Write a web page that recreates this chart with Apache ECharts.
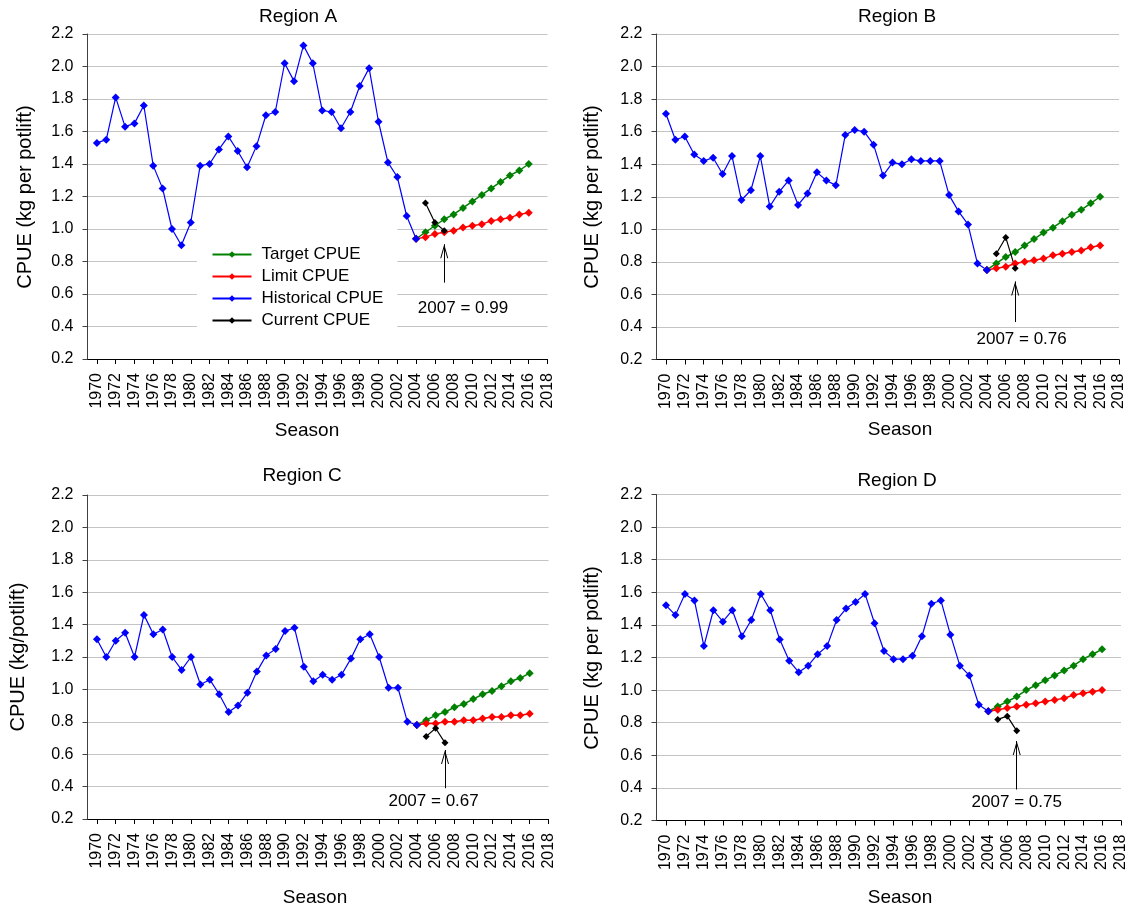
<!DOCTYPE html>
<html>
<head>
<meta charset="utf-8">
<script src="https://cdn.jsdelivr.net/npm/echarts@6/dist/echarts.min.js"></script>
<style>
  html, body { margin: 0; padding: 0; background: #ffffff; }
  #chart { width: 1130px; height: 911px; }
</style>
</head>
<body>
<div id="chart"></div>
<script>
// Season categories (the axis starts one season before the first record)
const seasons = [
  '1969','1970','1971','1972','1973','1974','1975','1976','1977','1978','1979',
  '1980','1981','1982','1983','1984','1985','1986','1987','1988','1989',
  '1990','1991','1992','1993','1994','1995','1996','1997','1998','1999',
  '2000','2001','2002','2003','2004','2005','2006','2007','2008','2009',
  '2010','2011','2012','2013','2014','2015','2016','2017','2018'
];
// Seasons that carry a tick and a label
const labelledSeasons = [
  '1970','1972','1974','1976','1978','1980','1982','1984','1986','1988',
  '1990','1992','1994','1996','1998','2000','2002','2004','2006','2008',
  '2010','2012','2014','2016','2018'
];

const seriesNames = ['Target CPUE', 'Limit CPUE', 'Historical CPUE', 'Current CPUE'];
const regionTitles = ['Region A', 'Region B', 'Region C', 'Region D'];
const yTitles = ['CPUE (kg per potlift)', 'CPUE (kg per potlift)', 'CPUE (kg/potlift)', 'CPUE (kg per potlift)'];
const xTitle = 'Season';

// Historical CPUE, seasons 1970-2004
const historicalA = [1.53, 1.55, 1.81, 1.63, 1.65, 1.76, 1.39, 1.25, 1.00, 0.90,
                     1.04, 1.39, 1.40, 1.49, 1.57, 1.48, 1.38, 1.51, 1.70, 1.72,
                     2.02, 1.91, 2.13, 2.02, 1.73, 1.72, 1.62, 1.72, 1.88, 1.99,
                     1.66, 1.41, 1.32, 1.08, 0.94];
const historicalB = [1.71, 1.55, 1.57, 1.46, 1.42, 1.44, 1.34, 1.45, 1.18, 1.24,
                     1.45, 1.14, 1.23, 1.30, 1.15, 1.22, 1.35, 1.30, 1.27, 1.58,
                     1.61, 1.60, 1.52, 1.33, 1.41, 1.40, 1.43, 1.42, 1.42, 1.42,
                     1.21, 1.11, 1.03, 0.79, 0.75];
const historicalC = [1.31, 1.20, 1.30, 1.35, 1.20, 1.46, 1.34, 1.37, 1.20, 1.12,
                     1.20, 1.03, 1.06, 0.97, 0.86, 0.90, 0.98, 1.11, 1.21, 1.25,
                     1.36, 1.38, 1.14, 1.05, 1.09, 1.06, 1.09, 1.19, 1.31, 1.34,
                     1.20, 1.01, 1.01, 0.80, 0.78];
const historicalD = [1.52, 1.46, 1.59, 1.55, 1.27, 1.49, 1.42, 1.49, 1.33, 1.43,
                     1.59, 1.49, 1.31, 1.18, 1.11, 1.15, 1.22, 1.27, 1.43, 1.50,
                     1.54, 1.59, 1.41, 1.24, 1.19, 1.19, 1.21, 1.33, 1.53, 1.55,
                     1.34, 1.15, 1.09, 0.91, 0.87];

// Target CPUE, seasons 2004-2016
const targetA = [0.94, 0.98, 1.02, 1.06, 1.09, 1.13, 1.17, 1.21, 1.25, 1.29, 1.33, 1.36, 1.40];
const targetB = [0.75, 0.79, 0.83, 0.86, 0.90, 0.94, 0.98, 1.01, 1.05, 1.09, 1.12, 1.16, 1.20];
const targetC = [0.78, 0.81, 0.84, 0.86, 0.89, 0.91, 0.94, 0.97, 0.99, 1.02, 1.05, 1.07, 1.10];
const targetD = [0.87, 0.90, 0.93, 0.96, 1.00, 1.03, 1.06, 1.09, 1.12, 1.15, 1.19, 1.22, 1.25];

// Limit CPUE, seasons 2004-2016
const limitA = [0.94, 0.95, 0.97, 0.98, 0.99, 1.01, 1.02, 1.03, 1.05, 1.06, 1.07, 1.09, 1.10];
const limitB = [0.75, 0.76, 0.77, 0.79, 0.80, 0.81, 0.82, 0.84, 0.85, 0.86, 0.87, 0.89, 0.90];
const limitC = [0.78, 0.79, 0.79, 0.80, 0.80, 0.81, 0.81, 0.82, 0.83, 0.83, 0.84, 0.84, 0.85];
const limitD = [0.87, 0.88, 0.89, 0.90, 0.91, 0.92, 0.93, 0.94, 0.95, 0.97, 0.98, 0.99, 1.00];

// Current CPUE, seasons 2005-2007
const currentA = [1.16, 1.04, 0.99];
const currentB = [0.85, 0.95, 0.76];
const currentC = [0.71, 0.76, 0.67];
const currentD = [0.82, 0.84, 0.75];

const historicalStart = '1970';
const projectionStart = '2004';
const currentStart = '2005';
const flaggedSeason = '2007';

// ---- layout & styling ----
const FONT = "'Liberation Sans', Arial, sans-serif";
const grids = [
  { left: 87.5, top: 34, width: 460, height: 325 },
  { left: 656.5, top: 34, width: 462.5, height: 325.5 },
  { left: 87.5, top: 495, width: 461, height: 324 },
  { left: 656.5, top: 494.5, width: 464.5, height: 326 }
];
const titlePos = [[298, 17], [897, 17], [302, 476], [897, 481]];
const xTitlePos = [[307, 431], [900, 430], [315, 898], [900, 898]];
const yTitlePos = [[25, 197], [592, 197], [18, 657], [592, 658]];
// arrow (from, to) in data units, text anchor season / value, and pixel nudge
const notes = [
  { from: 0.67, to: 0.906, textSeason: '2009', textValue: 0.512, dx: 0 },
  { from: 0.43, to: 0.68, textSeason: '2008', textValue: 0.325, dx: -3 },
  { from: 0.39, to: 0.626, textSeason: '2006', textValue: 0.307, dx: -2 },
  { from: 0.39, to: 0.688, textSeason: '2007', textValue: 0.312, dx: 0 }
];
const colors = { target: '#008000', limit: '#ff0000', historical: '#0000ff', current: '#000000' };
const openArrowHead = 'path://M0,28 L8,0 L16,28 L14,28 L8,7 L2,28 Z';

const regions = [
  { hist: historicalA, target: targetA, limit: limitA, current: currentA },
  { hist: historicalB, target: targetB, limit: limitB, current: currentB },
  { hist: historicalC, target: targetC, limit: limitC, current: currentC },
  { hist: historicalD, target: targetD, limit: limitD, current: currentD }
];

// place a run of values on the season axis, leaving other seasons empty
function onSeasons(values, firstSeason) {
  const start = seasons.indexOf(firstSeason);
  return seasons.map((s, i) => (i >= start && i < start + values.length) ? values[i - start] : null);
}
const showSeason = (idx, val) => labelledSeasons.indexOf(String(val)) >= 0;

const xAxes = [], yAxes = [], series = [], graphics = [];

regions.forEach((r, i) => {
  xAxes.push({
    type: 'category', gridIndex: i, data: seasons, boundaryGap: false,
    axisLine: { lineStyle: { color: '#000', width: 1 } },
    axisTick: { show: true, inside: false, length: 5, interval: showSeason, lineStyle: { color: '#000' } },
    axisLabel: { interval: showSeason, rotate: 90, margin: 14, fontSize: 16, color: '#000', fontFamily: FONT },
    splitLine: { show: false }
  });
  yAxes.push({
    type: 'value', gridIndex: i, min: 0.2, max: 2.2, interval: 0.2,
    axisLine: { show: true, lineStyle: { color: '#404040', width: 1 } },
    axisTick: { show: true, inside: false, length: 5, lineStyle: { color: '#404040' } },
    axisLabel: { margin: 14, fontSize: 16, color: '#000', fontFamily: FONT, formatter: v => v.toFixed(1) },
    splitLine: { show: true, lineStyle: { color: '#c4c4c4', width: 1 } }
  });

  const base = {
    type: 'line', xAxisIndex: i, yAxisIndex: i, symbol: 'diamond', showSymbol: true, showAllSymbol: true,
    connectNulls: false, animation: false, emphasis: { disabled: true }
  };
  series.push(Object.assign({}, base, {
    name: seriesNames[0], data: onSeasons(r.target, projectionStart), symbolSize: 8,
    itemStyle: { color: colors.target }, lineStyle: { color: colors.target, width: 1.5 }
  }));
  series.push(Object.assign({}, base, {
    name: seriesNames[1], data: onSeasons(r.limit, projectionStart), symbolSize: 8,
    itemStyle: { color: colors.limit }, lineStyle: { color: colors.limit, width: 1.5 }
  }));
  series.push(Object.assign({}, base, {
    name: seriesNames[2], data: onSeasons(r.hist, historicalStart), symbolSize: 8,
    itemStyle: { color: colors.historical }, lineStyle: { color: colors.historical, width: 1.2 }
  }));

  const n = notes[i];
  const flaggedValue = r.current[seasons.indexOf(flaggedSeason) - seasons.indexOf(currentStart)];
  series.push(Object.assign({}, base, {
    name: seriesNames[3], data: onSeasons(r.current, currentStart), symbolSize: 7,
    itemStyle: { color: colors.current }, lineStyle: { color: colors.current, width: 1.2 },
    markLine: {
      silent: true, animation: false, symbol: ['none', 'none'], label: { show: false },
      lineStyle: { color: '#000', width: 1, type: 'solid' },
      data: [[{ coord: [flaggedSeason, n.from] }, { coord: [flaggedSeason, n.to] }]]
    },
    markPoint: {
      silent: true, animation: false,
      data: [
        { coord: [flaggedSeason, n.to], symbol: openArrowHead, symbolSize: [8, 14], symbolOffset: [0, 7],
          itemStyle: { color: '#000' }, label: { show: false } },
        { coord: [n.textSeason, n.textValue], symbol: 'circle', symbolSize: 1,
          itemStyle: { color: 'rgba(0,0,0,0)' },
          label: { show: true, position: 'inside', offset: [n.dx, 0], color: '#000', fontSize: 17, fontFamily: FONT,
                   formatter: flaggedSeason + ' = ' + flaggedValue.toFixed(2) } }
      ]
    }
  }));

  graphics.push({ type: 'text', x: titlePos[i][0], y: titlePos[i][1], silent: true,
    style: { text: regionTitles[i], fill: '#000', font: '19px ' + FONT, align: 'center', verticalAlign: 'middle' } });
  graphics.push({ type: 'text', x: xTitlePos[i][0], y: xTitlePos[i][1], silent: true,
    style: { text: xTitle, fill: '#000', font: '19px ' + FONT, align: 'center', verticalAlign: 'middle' } });
  graphics.push({ type: 'text', x: yTitlePos[i][0], y: yTitlePos[i][1], rotation: Math.PI / 2, silent: true,
    style: { text: yTitles[i], fill: '#000', font: '20px ' + FONT, align: 'center', verticalAlign: 'middle' } });
});

const chart = echarts.init(document.getElementById('chart'), null, { renderer: 'canvas' });
chart.setOption({
  animation: false,
  backgroundColor: '#ffffff',
  textStyle: { fontFamily: FONT },
  grid: grids.map(g => Object.assign({ containLabel: false }, g)),
  xAxis: xAxes,
  yAxis: yAxes,
  legend: {
    data: seriesNames, orient: 'vertical', left: 197, top: 222,
    padding: [24, 14, 10, 14.5], backgroundColor: '#ffffff',
    itemGap: 5, itemWidth: 39, itemHeight: 8, selectedMode: false,
    textStyle: { fontSize: 17, color: '#000', fontFamily: FONT, padding: [0, 0, 0, 5] }
  },
  graphic: graphics,
  series: series
});
</script>
</body>
</html>
